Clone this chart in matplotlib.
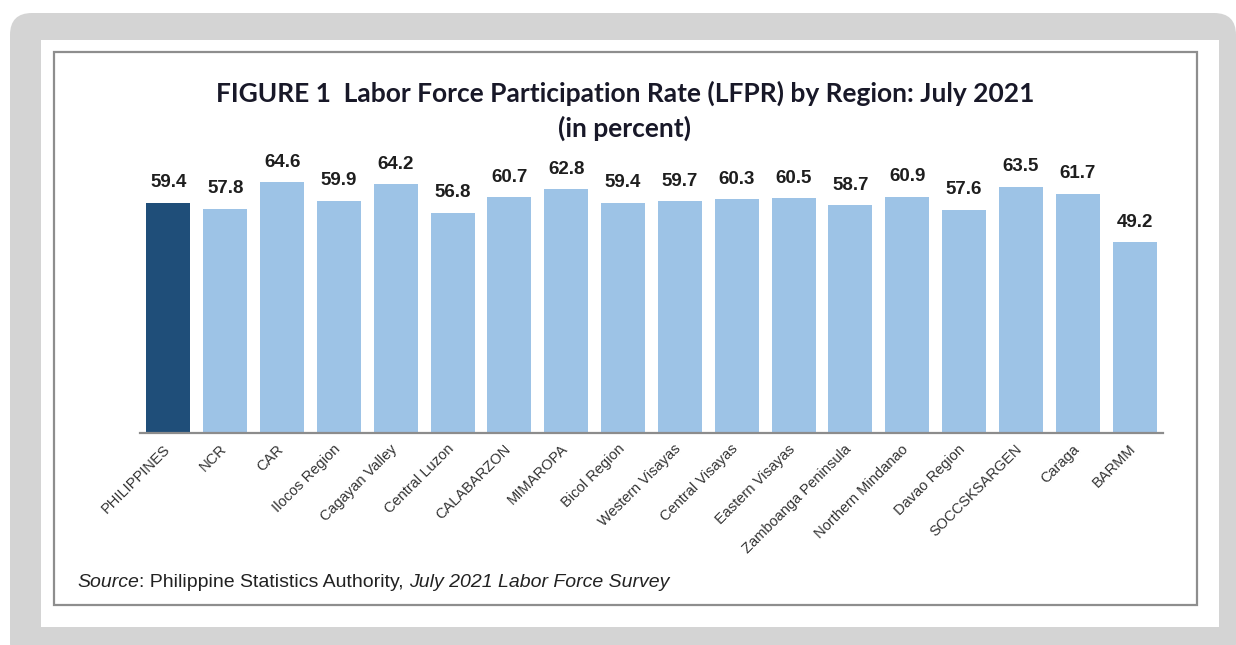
import matplotlib
matplotlib.use('Agg')
import matplotlib.pyplot as plt
from matplotlib.patches import FancyBboxPatch, Rectangle
from matplotlib.transforms import IdentityTransform, ScaledTranslation

regions = ['PHILIPPINES', 'NCR', 'CAR', 'Ilocos Region', 'Cagayan Valley',
           'Central Luzon', 'CALABARZON', 'MIMAROPA', 'Bicol Region',
           'Western Visayas', 'Central Visayas', 'Eastern Visayas',
           'Zamboanga Peninsula', 'Northern Mindanao', 'Davao Region',
           'SOCCSKSARGEN', 'Caraga', 'BARMM']
lfpr = [59.4, 57.8, 64.6, 59.9, 64.2, 56.8, 60.7, 62.8, 59.4, 59.7,
        60.3, 60.5, 58.7, 60.9, 57.6, 63.5, 61.7, 49.2]

title1 = 'FIGURE 1  Labor Force Participation Rate (LFPR) by Region: July 2021'
title2 = '(in percent)'

W, H = 1236, 645
DPI = 100
fig = plt.figure(figsize=(W / DPI, H / DPI), dpi=DPI)
fig.patch.set_facecolor('white')

ident = IdentityTransform()
gray = FancyBboxPatch((10, -20), 1226, 20 + (H - 13), boxstyle='round,pad=0,rounding_size=22',
                      transform=ident, facecolor='#d4d4d4', edgecolor='none', zorder=0)
white = Rectangle((41, H - 627), 1219 - 41, 627 - 40, transform=ident,
                  facecolor='white', edgecolor='none', zorder=0.1)
border = Rectangle((54, H - 605), 1197 - 54, 605 - 52, transform=ident,
                   facecolor='none', edgecolor='#8e8e8e', linewidth=1.6, zorder=0.2)
fig.patches.extend([gray, white, border])

ax_left, ax_right, ax_base = 140, 1163, 433
ymax = 70
ppu = 3.88
ax = fig.add_axes([ax_left / W, (H - ax_base) / H, (ax_right - ax_left) / W, ymax * ppu / H])
ax.set_facecolor('none')
ax.set_zorder(5)

x = list(range(len(regions)))
colors = ['#1f4e79'] + ['#9dc3e6'] * (len(regions) - 1)
ax.bar(x, lfpr, width=0.775, color=colors, zorder=2)
ax.set_xlim(-0.5, len(regions) - 0.5)
ax.set_ylim(0, ymax)

for s in ['top', 'right', 'left']:
    ax.spines[s].set_visible(False)
ax.spines['bottom'].set_color('#8c8c8c')
ax.spines['bottom'].set_linewidth(1.6)
ax.spines['bottom'].set_zorder(3)
ax.set_yticks([])

for i, v in zip(x, lfpr):
    ax.annotate(f'{v:.1f}', (i, v), xytext=(0, 11), textcoords='offset points',
                ha='center', va='baseline', fontsize=13.5, fontweight='bold',
                family='Liberation Sans', color='#1e1e1e')

ax.set_xticks(x)
ax.set_xticklabels(regions, rotation=45, ha='right', rotation_mode='anchor',
                   fontsize=10.5, family='Liberation Sans', color='#333333')
ax.tick_params(axis='x', length=0, pad=10)
off = ScaledTranslation(-1 / DPI, 0, fig.dpi_scale_trans)
for lab in ax.get_xticklabels():
    lab.set_va('center')
    lab.set_transform(lab.get_transform() + off)

fig.text(625 / W, 1 - 102 / H, title1, ha='center', va='baseline', fontsize=19,
         fontweight='bold', family='Lato', color='#181828')
fig.text(625 / W, 1 - 137 / H, title2, ha='center', va='baseline', fontsize=19,
         fontweight='bold', family='Lato', color='#181828')

renderer = fig.canvas.get_renderer()
pieces = [('Source', 'italic'), (': Philippine Statistics Authority, ', 'normal'),
          ('July 2021 Labor Force Survey', 'italic')]
xpos = 77
for txt, style in pieces:
    t = fig.text(xpos / W, 1 - 587 / H, txt, ha='left', va='baseline', fontsize=14,
                 style=style, family='Liberation Sans', color='#222222')
    bb = t.get_window_extent(renderer=renderer)
    xpos += bb.width

fig.savefig('out.png', dpi=DPI, facecolor='white')
